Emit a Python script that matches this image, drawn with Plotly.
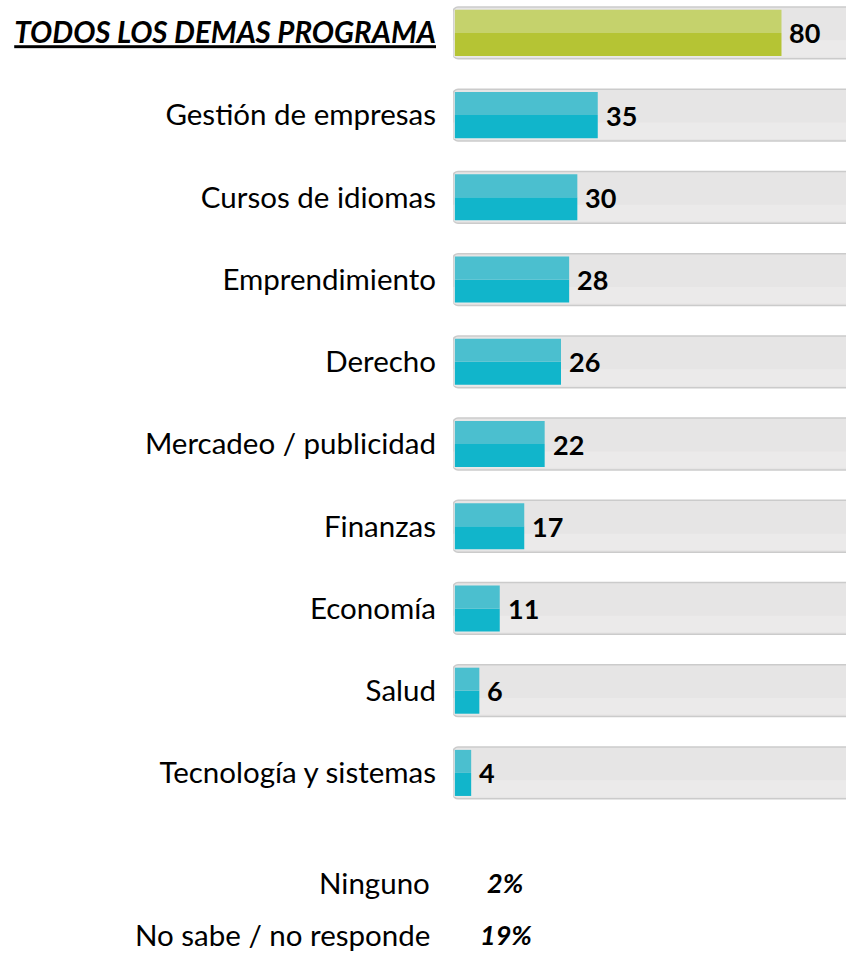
import plotly.graph_objects as go

categories = ["TODOS LOS DEMAS PROGRAMA", "Gestión de empresas", "Cursos de idiomas",
              "Emprendimiento", "Derecho", "Mercadeo / publicidad", "Finanzas",
              "Economía", "Salud", "Tecnología y sistemas"]
values = [80, 35, 30, 28, 26, 22, 17, 11, 6, 4]
extra_labels = ["Ninguno", "No sabe / no responde"]
extra_values = ["2%", "19%"]

FONT = "Lato"
FS = 29.5
pos = list(range(len(categories)))
ticktext = ["<b><i><u>" + categories[0] + "</u></i></b>"] + categories[1:]

top_col = ["#c5d26c"] + ["#4bbfcf"] * (len(values) - 1)
bot_col = ["#b5c434"] + ["#11b5cb"] * (len(values) - 1)

fig = go.Figure()
# background tracks
fig.add_trace(go.Bar(y=pos, x=[110] * len(pos), base=-0.45, orientation="h", width=0.63,
                     marker=dict(color="#e6e5e5", line=dict(color="#cbcbcb", width=1.5),
                                 cornerradius=5),
                     hoverinfo="skip", showlegend=False))
# lighter lower part of tracks (gradient look)
fig.add_trace(go.Bar(y=pos, x=[110] * len(pos), base=-0.3, orientation="h", width=0.2,
                     offset=0.09,
                     marker=dict(color="#ebeaea", line=dict(width=0)),
                     hoverinfo="skip", showlegend=False))
# lower half (darker)
fig.add_trace(go.Bar(y=pos, x=values, orientation="h", width=0.28, offset=0.0,
                     marker=dict(color=bot_col, line=dict(width=0)),
                     hoverinfo="skip", showlegend=False))
# upper half (lighter)
fig.add_trace(go.Bar(y=pos, x=values, orientation="h", width=0.28, offset=-0.28,
                     marker=dict(color=top_col, line=dict(width=0)),
                     hoverinfo="skip", showlegend=False))

# value labels
for p, v in zip(pos, values):
    fig.add_annotation(x=v, y=p, xref="x", yref="y", text="<b>%d</b>" % v,
                       showarrow=False, xanchor="left", xshift=6,
                       font=dict(family=FONT, size=27, color="#000"))

extra_pos = [10.33, 10.96]
for lab, val, yp in zip(extra_labels, extra_values, extra_pos):
    fig.add_annotation(x=0, y=yp, xref="x", yref="y", text=lab, showarrow=False,
                       xanchor="right", xshift=-23, font=dict(family=FONT, size=FS, color="#000"))
    fig.add_annotation(x=0, y=yp, xref="x", yref="y", text="<b><i>" + val + "</i></b>",
                       showarrow=False, xanchor="center", xshift=51,
                       font=dict(family=FONT, size=27, color="#000"))

fig.update_layout(
    width=846, height=953, margin=dict(l=453, r=0, t=0, b=0),
    paper_bgcolor="white", plot_bgcolor="white", barmode="overlay",
    font=dict(family=FONT, size=FS, color="#000"),
    xaxis=dict(range=[-0.45, 95.8], visible=False, fixedrange=True),
    yaxis=dict(range=[11.19, -0.40], tickmode="array", tickvals=pos, ticktext=ticktext,
               showgrid=False, zeroline=False, showline=False, ticks="",
               ticklabelstandoff=16, tickfont=dict(family=FONT, size=FS, color="#000"),
               fixedrange=True),
)
fig.write_html("out.html", config={"displayModeBar": False},
               post_script="document.body.style.margin='0';document.body.style.overflow='hidden';")
